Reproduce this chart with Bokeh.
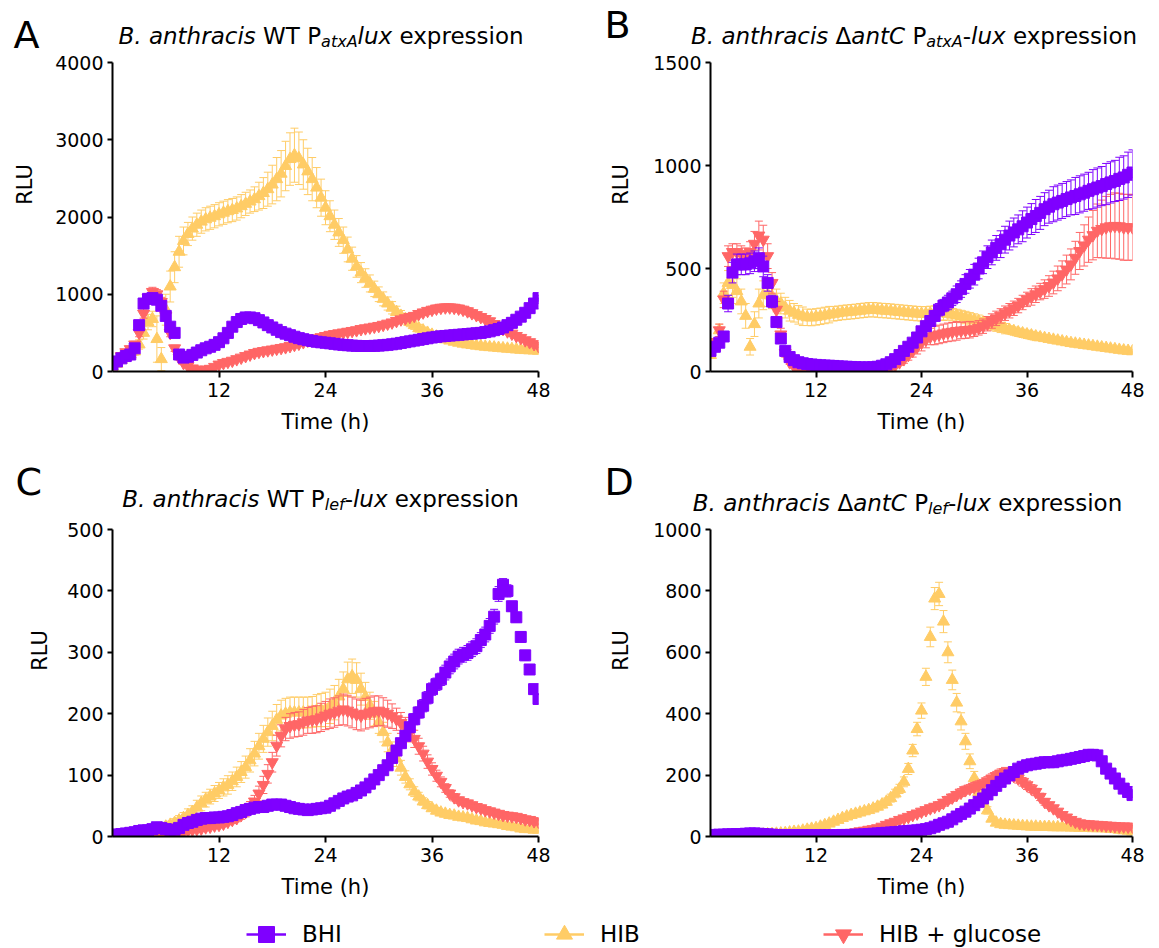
import numpy as np
from bokeh.plotting import figure
from bokeh.models import ColumnDataSource, FixedTicker, Label, Legend, LegendItem
from bokeh.layouts import column, row
from bokeh.embed import file_html
from bokeh.resources import INLINE

# ---------------- data ----------------
time_h = np.arange(0, 48.5, 0.5)  # sampling times (h), 97 points

series_names = ["BHI", "HIB", "HIB + glucose"]

# Panel A: WT PatxA-lux
A_BHI = [90, 130, 170, 200, 220, 300, 600, 880, 940, 950,
         930, 850, 720, 580, 500, 220, 180, 190, 215, 245,
         275, 300, 320, 345, 380, 430, 500, 580, 640, 680,
         700, 700, 690, 665, 635, 600, 570, 540, 510, 490,
         470, 450, 432, 418, 405, 395, 385, 378, 372, 365,
         358, 350, 345, 340, 335, 332, 330, 330, 330, 332,
         335, 340, 345, 352, 360, 370, 380, 390, 400, 410,
         420, 430, 440, 448, 455, 460, 465, 470, 475, 480,
         485, 490, 495, 500, 510, 520, 535, 550, 570, 600,
         630, 670, 710, 760, 820, 880, 950]
A_BHI_err = [20, 20, 20, 20, 20, 30, 40, 50, 50, 50,
             50, 50, 40, 40, 30, 20, 20, 20, 20, 20,
             20, 20, 20, 20, 20, 25, 25, 30, 30, 30,
             30, 30, 30, 30, 25, 25, 25, 20, 20, 20,
             20, 20, 20, 20, 20, 20, 20, 20, 20, 20,
             20, 20, 20, 20, 20, 20, 20, 20, 20, 20,
             20, 20, 20, 20, 20, 20, 20, 20, 20, 20,
             20, 20, 20, 20, 20, 20, 20, 20, 20, 20,
             20, 20, 20, 20, 20, 20, 25, 25, 25, 25,
             25, 25, 30, 30, 30, 35, 40]
A_HIB = [60, 100, 150, 190, 220, 260, 350, 500, 640, 680,
         420, 160, 800, 1100, 1350, 1550, 1690, 1780, 1850, 1900,
         1940, 1970, 1990, 2010, 2035, 2055, 2075, 2090, 2110, 2140,
         2170, 2200, 2230, 2270, 2310, 2360, 2420, 2490, 2560, 2660,
         2750, 2800, 2760, 2680, 2590, 2490, 2380, 2250, 2120, 2010,
         1900, 1800, 1700, 1580, 1460, 1360, 1280, 1210, 1140, 1070,
         1000, 940, 880, 825, 770, 720, 680, 640, 600, 560,
         530, 500, 475, 452, 432, 415, 400, 385, 372, 360,
         350, 342, 334, 327, 320, 315, 310, 305, 300, 295,
         290, 285, 281, 277, 274, 271, 268]
A_HIB_err = [20, 30, 30, 40, 40, 50, 60, 80, 100, 100,
             300, 150, 200, 200, 200, 200, 180, 150, 150, 150,
             150, 150, 150, 150, 150, 150, 150, 150, 150, 150,
             150, 150, 160, 180, 200, 220, 250, 280, 300, 320,
             340, 350, 340, 320, 300, 280, 260, 240, 220, 200,
             190, 180, 170, 160, 150, 140, 130, 120, 110, 100,
             95, 90, 85, 80, 75, 70, 65, 60, 55, 50,
             45, 40, 40, 35, 35, 30, 30, 30, 25, 25,
             25, 25, 20, 20, 20, 20, 20, 20, 20, 20,
             20, 20, 20, 20, 20, 20, 20]
A_GLU = [100, 150, 200, 250, 290, 350, 500, 750, 950, 1030,
         1000, 900, 720, 500, 300, 180, 110, 70, 40, 25,
         20, 25, 35, 60, 90, 110, 125, 140, 160, 180,
         200, 220, 240, 255, 265, 275, 285, 295, 305, 315,
         330, 345, 360, 380, 400, 415, 430, 445, 460, 475,
         485, 495, 505, 515, 525, 535, 550, 560, 570, 580,
         590, 605, 620, 635, 655, 675, 690, 705, 720, 745,
         765, 785, 800, 815, 825, 830, 830, 825, 815, 800,
         780, 755, 730, 705, 680, 650, 615, 580, 550, 520,
         490, 460, 435, 405, 380, 355, 330]
A_GLU_err = [20, 20, 20, 30, 30, 40, 50, 60, 60, 60,
             60, 60, 50, 50, 40, 30, 20, 20, 15, 15,
             15, 15, 15, 20, 20, 20, 20, 20, 20, 25,
             25, 25, 25, 25, 25, 25, 25, 25, 25, 25,
             25, 25, 25, 25, 30, 30, 30, 30, 30, 30,
             30, 30, 30, 30, 30, 30, 30, 30, 30, 30,
             30, 30, 30, 35, 35, 35, 35, 35, 40, 40,
             40, 40, 45, 45, 45, 45, 45, 45, 45, 45,
             45, 45, 40, 40, 40, 40, 35, 35, 35, 30,
             30, 30, 30, 30, 25, 25, 25]

# Panel B: delta-antC PatxA-lux
B_BHI = [100, 120, 140, 170, 330, 480, 520, 520, 520, 525,
         535, 550, 510, 430, 340, 240, 160, 100, 70, 55,
         45, 40, 36, 34, 32, 30, 29, 28, 27, 25,
         24, 23, 22, 21, 20, 20, 20, 21, 23, 28,
         35, 45, 60, 80, 100, 120, 140, 165, 195, 220,
         245, 270, 300, 320, 335, 355, 375, 400, 425, 450,
         470, 500, 530, 555, 578, 600, 618, 640, 660, 675,
         690, 705, 723, 740, 755, 770, 788, 800, 812, 820,
         828, 837, 845, 852, 860, 868, 877, 885, 893, 900,
         910, 918, 925, 935, 942, 955, 966]
B_BHI_err = [10, 10, 15, 20, 40, 50, 50, 50, 50, 50,
             50, 50, 50, 40, 30, 20, 15, 10, 10, 8,
             8, 6, 6, 5, 5, 5, 5, 5, 5, 5,
             5, 5, 5, 5, 5, 5, 5, 5, 5, 5,
             6, 6, 8, 10, 12, 15, 15, 18, 20, 20,
             25, 25, 30, 30, 35, 35, 40, 40, 45, 45,
             50, 50, 55, 55, 60, 60, 65, 65, 70, 70,
             70, 75, 75, 75, 80, 80, 80, 80, 85, 85,
             85, 85, 85, 90, 90, 90, 90, 95, 95, 95,
             100, 100, 100, 105, 105, 110, 110]
B_HIB = [80, 120, 200, 380, 430, 420, 390, 340, 270, 120,
         230, 330, 370, 375, 365, 345, 330, 310, 295, 285,
         275, 268, 263, 262, 265, 268, 272, 276, 280, 283,
         286, 288, 290, 292, 295, 297, 300, 300, 298, 296,
         295, 293, 291, 289, 287, 285, 283, 281, 280, 280,
         282, 284, 285, 283, 280, 276, 272, 267, 262, 256,
         250, 244, 238, 232, 226, 220, 214, 208, 202, 196,
         190, 185, 180, 175, 170, 166, 162, 158, 154, 150,
         146, 142, 138, 135, 132, 129, 126, 123, 120, 117,
         114, 111, 108, 105, 102, 100, 98]
B_HIB_err = [10, 20, 30, 50, 60, 60, 60, 60, 60, 40,
             60, 70, 70, 60, 60, 55, 50, 50, 50, 45,
             45, 45, 40, 40, 40, 40, 40, 40, 35, 35,
             35, 35, 35, 35, 35, 35, 35, 35, 35, 35,
             35, 35, 35, 35, 35, 35, 35, 35, 35, 35,
             35, 35, 35, 35, 30, 30, 30, 30, 30, 30,
             30, 30, 25, 25, 25, 25, 25, 25, 20, 20,
             20, 20, 20, 20, 20, 15, 15, 15, 15, 15,
             15, 15, 15, 15, 12, 12, 12, 12, 12, 12,
             10, 10, 10, 10, 10, 10, 10]
B_GLU = [100, 140, 200, 350, 560, 580, 580, 570, 560, 580,
         620, 660, 640, 560, 430, 300, 180, 90, 45, 25,
         15, 12, 10, 10, 10, 10, 10, 10, 10, 10,
         10, 10, 10, 10, 10, 10, 10, 10, 10, 11,
         12, 20, 30, 45, 60, 80, 100, 120, 140, 155,
         170, 175, 180, 185, 190, 193, 197, 199, 201, 203,
         205, 212, 220, 232, 245, 258, 270, 283, 295, 307,
         320, 335, 350, 362, 375, 388, 400, 415, 432, 452,
         472, 495, 520, 552, 585, 612, 640, 662, 683, 692,
         700, 705, 707, 705, 700, 700, 700]
B_GLU_err = [10, 20, 30, 40, 50, 40, 40, 40, 40, 50,
             60, 70, 70, 60, 50, 40, 30, 20, 10, 8,
             5, 5, 5, 5, 5, 5, 5, 5, 5, 5,
             5, 5, 5, 5, 5, 5, 5, 5, 5, 5,
             5, 8, 10, 15, 20, 25, 30, 35, 40, 40,
             40, 45, 45, 45, 45, 45, 45, 40, 40, 40,
             35, 35, 35, 35, 35, 35, 35, 35, 35, 35,
             35, 35, 35, 40, 40, 40, 45, 50, 55, 60,
             65, 70, 75, 80, 90, 100, 110, 120, 130, 140,
             150, 155, 160, 160, 160, 160, 160]

# Panel C: WT Plef-lux
C_BHI = [3, 3, 4, 5, 6, 7, 9, 10, 10, 12,
         15, 14, 12, 11, 11, 14, 19, 22, 24, 27,
         29, 30, 30, 31, 31, 32, 33, 35, 38, 40,
         43, 45, 47, 48, 48, 50, 52, 52, 52, 50,
         48, 46, 45, 44, 43, 44, 45, 46, 47, 50,
         54, 58, 62, 65, 67, 71, 75, 80, 86, 93,
         100, 108, 116, 128, 140, 152, 164, 178, 191, 202,
         213, 226, 240, 248, 256, 267, 277, 285, 293, 296,
         299, 305, 310, 320, 329, 343, 358, 395, 410, 400,
         375, 357, 325, 295, 272, 240, 224]
C_BHI_err = [3, 3, 3, 3, 3, 3, 3, 3, 3, 3,
             3, 3, 3, 3, 3, 3, 3, 3, 3, 3,
             3, 3, 3, 3, 3, 3, 3, 3, 3, 3,
             3, 3, 3, 3, 3, 3, 3, 3, 3, 3,
             3, 3, 3, 3, 3, 3, 3, 3, 3, 3,
             4, 4, 4, 4, 4, 4, 4, 4, 4, 4,
             5, 5, 6, 6, 7, 7, 8, 8, 9, 9,
             10, 10, 10, 10, 10, 12, 12, 12, 12, 12,
             12, 12, 12, 12, 12, 12, 12, 12, 10, 10,
             8, 8, 8, 8, 8, 8, 8]
C_HIB = [0, 0, 1, 1, 2, 2, 3, 4, 5, 7,
         10, 13, 16, 19, 22, 26, 30, 35, 40, 47,
         54, 60, 65, 70, 75, 80, 84, 90, 97, 105,
         113, 124, 135, 147, 159, 170, 180, 190, 197, 200,
         202, 202, 202, 202, 202, 203, 205, 206, 207, 212,
         218, 228, 240, 256, 261, 255, 240, 227, 213, 200,
         186, 170, 153, 140, 127, 112, 97, 85, 73, 65,
         57, 51, 46, 42, 39, 37, 35, 34, 32, 31,
         30, 28, 26, 25, 23, 22, 21, 20, 19, 17,
         16, 15, 13, 12, 12, 11, 11]
C_HIB_err = [1, 1, 1, 1, 1, 1, 2, 2, 2, 3,
             3, 4, 5, 6, 7, 8, 9, 10, 10, 12,
             12, 12, 12, 13, 13, 14, 15, 15, 16, 17,
             18, 19, 20, 21, 22, 23, 24, 25, 25, 25,
             25, 25, 25, 25, 25, 25, 26, 27, 28, 28,
             28, 28, 28, 28, 28, 28, 26, 24, 22, 20,
             18, 16, 15, 14, 13, 12, 10, 9, 8, 7,
             6, 6, 5, 5, 5, 5, 5, 4, 4, 4,
             4, 4, 4, 4, 4, 4, 4, 4, 4, 4,
             4, 4, 4, 4, 4, 4, 4]
C_GLU = [0, 0, 0, 0, 1, 1, 1, 1, 1, 1,
         2, 2, 2, 2, 3, 5, 8, 10, 11, 12,
         13, 15, 16, 18, 19, 21, 24, 27, 30, 35,
         40, 48, 57, 70, 84, 102, 121, 148, 164, 175,
         180, 182, 183, 186, 189, 190, 191, 194, 197, 200,
         202, 205, 207, 205, 202, 199, 197, 200, 202, 204,
         205, 203, 200, 196, 191, 185, 178, 169, 159, 147,
         135, 122, 110, 99, 89, 79, 70, 64, 59, 56,
         54, 51, 48, 46, 43, 41, 39, 37, 35, 34,
         33, 32, 30, 28, 27, 25, 24]
C_GLU_err = [1, 1, 1, 1, 1, 1, 1, 1, 1, 1,
             1, 1, 1, 1, 1, 2, 3, 3, 3, 3,
             4, 4, 4, 5, 5, 5, 5, 6, 6, 7,
             8, 9, 10, 12, 14, 15, 16, 17, 18, 19,
             20, 20, 20, 21, 21, 22, 22, 23, 23, 24,
             24, 24, 25, 25, 25, 25, 25, 25, 25, 25,
             24, 23, 22, 20, 18, 17, 16, 15, 14, 13,
             12, 11, 10, 9, 8, 7, 6, 6, 5, 5,
             5, 5, 5, 5, 5, 5, 5, 5, 5, 5,
             5, 5, 5, 5, 5, 5, 5]

# Panel D: delta-antC Plef-lux
D_BHI = [5, 5, 6, 6, 7, 7, 8, 8, 9, 10,
         10, 9, 8, 7, 6, 5, 4, 4, 4, 4,
         4, 4, 4, 4, 4, 4, 4, 4, 4, 4,
         5, 5, 5, 6, 6, 7, 8, 9, 10, 11,
         12, 13, 14, 15, 17, 18, 19, 20, 22, 24,
         27, 32, 38, 43, 48, 56, 65, 73, 81, 91,
         102, 113, 124, 137, 151, 165, 178, 189, 199, 210,
         221, 227, 232, 235, 237, 240, 242, 242, 242, 245,
         248, 250, 253, 256, 259, 262, 266, 266, 264, 245,
         221, 205, 189, 172, 156, 145, 135]
D_BHI_err = [3, 3, 3, 3, 3, 3, 3, 3, 3, 3,
             3, 3, 3, 3, 3, 3, 3, 3, 3, 3,
             3, 3, 3, 3, 3, 3, 3, 3, 3, 3,
             3, 3, 3, 3, 3, 3, 3, 3, 3, 3,
             3, 3, 3, 3, 3, 3, 3, 3, 3, 3,
             3, 3, 4, 4, 4, 5, 5, 5, 6, 6,
             6, 7, 7, 8, 8, 8, 9, 9, 10, 10,
             10, 10, 10, 10, 10, 10, 10, 10, 10, 10,
             10, 10, 10, 10, 10, 12, 12, 12, 12, 12,
             12, 12, 12, 14, 14, 14, 14]
D_HIB = [0, 0, 1, 1, 1, 2, 2, 3, 3, 4,
         5, 6, 6, 7, 8, 9, 10, 11, 13, 15,
         16, 19, 22, 25, 27, 32, 37, 42, 48, 54,
         60, 65, 70, 74, 78, 82, 86, 91, 97, 104,
         113, 125, 140, 155, 178, 220, 280, 350, 410, 520,
         650, 775, 790, 700, 600, 510, 436, 375, 310, 245,
         190, 145, 110, 85, 58, 45, 40, 38, 37, 36,
         35, 34, 33, 32, 32, 31, 31, 31, 30, 30,
         30, 30, 29, 29, 28, 28, 28, 27, 27, 27,
         26, 25, 24, 22, 20, 19, 16]
D_HIB_err = [1, 1, 1, 1, 1, 1, 1, 1, 1, 1,
             1, 1, 1, 1, 1, 2, 2, 2, 2, 2,
             2, 2, 3, 3, 3, 4, 4, 5, 5, 6,
             6, 7, 7, 8, 8, 9, 9, 10, 10, 11,
             12, 13, 14, 15, 16, 18, 20, 22, 25, 28,
             32, 36, 38, 36, 34, 32, 30, 28, 26, 24,
             22, 20, 16, 12, 8, 6, 5, 5, 5, 5,
             5, 5, 5, 5, 5, 5, 5, 5, 5, 5,
             5, 5, 5, 5, 5, 5, 5, 5, 5, 5,
             5, 5, 5, 5, 5, 5, 5]
D_GLU = [0, 0, 0, 0, 1, 1, 1, 1, 1, 1,
         1, 1, 1, 2, 2, 2, 2, 2, 3, 3,
         3, 3, 4, 4, 4, 5, 6, 7, 8, 9,
         10, 11, 12, 14, 17, 19, 22, 24, 27, 32,
         38, 43, 48, 54, 59, 64, 70, 75, 81, 86,
         92, 97, 102, 110, 119, 127, 135, 143, 151, 156,
         162, 167, 172, 180, 189, 197, 205, 210, 205, 197,
         189, 178, 167, 156, 145, 129, 113, 102, 92, 81,
         70, 62, 54, 48, 43, 41, 40, 39, 38, 37,
         36, 35, 34, 33, 33, 32, 32]
D_GLU_err = [1, 1, 1, 1, 1, 1, 1, 1, 1, 1,
             1, 1, 1, 1, 1, 1, 1, 1, 1, 1,
             1, 1, 1, 1, 1, 1, 2, 2, 2, 2,
             2, 2, 2, 3, 3, 3, 4, 4, 4, 5,
             5, 6, 6, 7, 7, 8, 8, 9, 9, 10,
             10, 10, 11, 11, 12, 12, 12, 13, 13, 13,
             14, 14, 14, 15, 15, 15, 15, 15, 15, 15,
             15, 14, 14, 13, 12, 12, 11, 10, 9, 8,
             7, 7, 6, 6, 5, 5, 5, 5, 5, 5,
             5, 5, 5, 5, 5, 5, 5]

x_ticks = [12, 24, 36, 48]
A_y_ticks = [0, 1000, 2000, 3000, 4000]
B_y_ticks = [0, 500, 1000, 1500]
C_y_ticks = [0, 100, 200, 300, 400, 500]
D_y_ticks = [0, 200, 400, 600, 800, 1000]

# ---------------- style ----------------
FONT = "DejaVu Sans"
COLORS = {"BHI": "#7F00FF", "HIB": "#FFCC66", "HIB + glucose": "#FF6666"}
MARKERS = {"BHI": "square", "HIB": "triangle", "HIB + glucose": "inverted_triangle"}
MSIZE = {"BHI": 11, "HIB": 12, "HIB + glucose": 12}
DRAW_ORDER = ["HIB", "HIB + glucose", "BHI"]
MID = 0.346  # em-box middle above the baseline (DejaVu Sans)

# DejaVu Sans advance widths (em)
DJ = {' ': .318, '.': .318, 'B': .686, 'a': .613, 'n': .634, 't': .392, 'h': .634,
      'r': .411, 'c': .550, 'i': .278, 's': .521, 'W': .989, 'T': .611, 'P': .603,
      'x': .592, 'A': .684, 'l': .278, 'u': .634, 'e': .615, 'p': .635, 'o': .612,
      'C': .698, 'f': .352, '-': .361, '\u0394': .684}


def tw(s, size):
    return sum(DJ.get(ch, 0.6) for ch in s) * size


def no_align(p):
    try:
        p.frame_align = False
    except Exception:
        pass
    return p


def strip(width, height):
    s = figure(width=width, height=height, output_backend="svg", toolbar_location=None,
               title=None, x_axis_type=None, y_axis_type=None, min_border=0,
               x_range=(0, 1), y_range=(0, 1))
    s.outline_line_color = None
    s.grid.visible = False
    return no_align(s)


def add_label(p, text, x, y, size, style="normal", angle=0.0, align="left"):
    # y is the baseline height above the strip bottom; anchor at em-box middle
    yy = y if angle else y + MID * size
    p.add_layout(Label(x=x, y=yy, x_units="screen", y_units="screen", text=text,
                       text_font=FONT, text_font_size=f"{size}px", text_font_style=style,
                       text_color="black", text_align=align, text_baseline="middle",
                       angle=angle))


def add_title(p, parts, cx, base_y, sub_y, size=23, sub_size=16):
    total = sum(tw(t, sub_size if s else size) for t, it, s in parts)
    x = cx - total / 2
    for t, it, s in parts:
        fs = sub_size if s else size
        lead = len(t) - len(t.lstrip(' '))
        add_label(p, t.strip(), x + tw(' ' * lead, fs), sub_y if s else base_y,
                  fs, "italic" if it else "normal")
        x += tw(t, fs)


def make_panel(width, height, left, right, top, bottom, y_max, y_ticks, data):
    p = figure(width=width, height=height, x_range=(0, 48), y_range=(0, y_max),
               output_backend="svg", toolbar_location=None, title=None,
               min_border_left=left, min_border_right=right,
               min_border_top=top, min_border_bottom=bottom)
    no_align(p)
    p.grid.visible = False
    p.outline_line_color = None
    p.xaxis.ticker = FixedTicker(ticks=x_ticks)
    p.yaxis.ticker = FixedTicker(ticks=y_ticks)
    for ax in p.axis:
        ax.axis_line_width = 2
        ax.axis_line_color = "black"
        ax.major_tick_line_width = 2
        ax.major_tick_line_color = "black"
        ax.minor_tick_line_color = None
        ax.major_tick_in = 0
        ax.major_label_text_font = FONT
        ax.major_label_text_font_size = "19px"
        ax.major_label_text_color = "black"
    p.xaxis.major_tick_out = 6
    p.xaxis.major_label_standoff = 5
    p.yaxis.major_tick_out = 5
    p.yaxis.major_label_standoff = 4
    p.xaxis.axis_label = "Time (h)"
    p.xaxis.axis_label_text_font = FONT
    p.xaxis.axis_label_text_font_size = "21px"
    p.xaxis.axis_label_text_font_style = "normal"
    p.xaxis.axis_label_text_color = "black"
    p.xaxis.axis_label_standoff = 10
    for name in DRAW_ORDER:
        vals, errs = data[name]
        v = np.array(vals, dtype=float)
        e = np.array(errs, dtype=float)
        assert len(v) == len(time_h) and len(e) == len(time_h), name
        src = ColumnDataSource(dict(t=time_h, v=v, lo=v - e, hi=v + e))
        c = COLORS[name]
        p.segment(x0="t", y0="lo", x1="t", y1="hi", source=src, line_color=c, line_width=1)
        p.scatter(x="t", y="hi", marker="dash", size=8, line_color=c, line_width=1, source=src)
        p.scatter(x="t", y="lo", marker="dash", size=8, line_color=c, line_width=1, source=src)
        p.scatter(x="t", y="v", marker=MARKERS[name], size=MSIZE[name],
                  fill_color=c, line_color=c, line_width=1, source=src)
    return p


# ---------------- panels ----------------
pA = make_panel(550, 397, 72, 52, 11, 77, 4000, A_y_ticks,
                {"BHI": (A_BHI, A_BHI_err), "HIB": (A_HIB, A_HIB_err),
                 "HIB + glucose": (A_GLU, A_GLU_err)})
pB = make_panel(523, 397, 74, 27, 11, 77, 1500, B_y_ticks,
                {"BHI": (B_BHI, B_BHI_err), "HIB": (B_HIB, B_HIB_err),
                 "HIB + glucose": (B_GLU, B_GLU_err)})
pC = make_panel(536, 383, 58, 52, 11, 63, 500, C_y_ticks,
                {"BHI": (C_BHI, C_BHI_err), "HIB": (C_HIB, C_HIB_err),
                 "HIB + glucose": (C_GLU, C_GLU_err)})
pD = make_panel(523, 383, 74, 27, 11, 63, 1000, D_y_ticks,
                {"BHI": (D_BHI, D_BHI_err), "HIB": (D_HIB, D_HIB_err),
                 "HIB + glucose": (D_GLU, D_GLU_err)})

# left strips: panel letter + y-axis title
lsA, lsB = strip(40, 448), strip(46, 448)
lsC, lsD = strip(54, 453), strip(46, 453)
add_label(lsA, "A", 13, 400, 38)
add_label(lsB, "B", 14, 410, 38)
add_label(lsC, "C", 15, 406, 38)
add_label(lsD, "D", 14, 406, 38)
add_label(lsA, "RLU", 24.2, 264, 21, angle=np.pi / 2, align="center")
add_label(lsB, "RLU", 30.7, 264, 21, angle=np.pi / 2, align="center")
add_label(lsC, "RLU", 39.2, 251, 21, angle=np.pi / 2, align="center")
add_label(lsD, "RLU", 30.7, 251, 21, angle=np.pi / 2, align="center")

# title strips
tA, tB = strip(550, 51), strip(523, 51)
tC, tD = strip(536, 70), strip(523, 70)
add_title(tA, [("B. anthracis", True, False), (" WT P", False, False), ("atxA", True, True),
               ("lux", True, False), (" expression", False, False)], 281, 8, 4)
add_title(tB, [("B. anthracis ", True, False), ("\u0394", False, False), ("antC", True, False),
               (" P", False, False), ("atxA", True, True), ("-", False, False),
               ("lux", True, False), (" expression", False, False)], 278, 8, 4)
add_title(tC, [("B. anthracis", True, False), (" WT P", False, False), ("lef", True, True),
               ("-", False, False), ("lux", True, False), (" expression", False, False)], 266.5, 12, 8)
add_title(tD, [("B. anthracis ", True, False), ("\u0394", False, False), ("antC", True, False),
               (" P", False, False), ("lef", True, True), ("-", False, False),
               ("lux", True, False), (" expression", False, False)], 271.5, 8, 4)

# legend strip
leg = strip(1159, 47)
legend_x = {"BHI": 246, "HIB": 544, "HIB + glucose": 823}
for name in series_names:
    c = COLORS[name]
    esrc = ColumnDataSource(dict(x=[np.nan], y=[np.nan]))
    r1 = leg.segment(x0="x", y0="y", x1="x", y1="y", source=esrc, line_color=c, line_width=2.5)
    r2 = leg.scatter(x="x", y="y", marker=MARKERS[name], size=MSIZE[name], source=esrc,
                     fill_color=c, line_color=c)
    lg = Legend(items=[LegendItem(label=name, renderers=[r1, r2])],
                location=(legend_x[name], -7), padding=0, margin=0,
                border_line_color=None, background_fill_alpha=0,
                glyph_width=40, glyph_height=42, label_standoff=16,
                label_text_font=FONT, label_text_font_size="23px", label_text_color="black")
    leg.add_layout(lg)

row1 = row(lsA, column(tA, pA), lsB, column(tB, pB))
row2 = row(lsC, column(tC, pC), lsD, column(tD, pD))
layout = column(row1, row2, leg)
open("out.html", "w").write(file_html(layout, INLINE))
